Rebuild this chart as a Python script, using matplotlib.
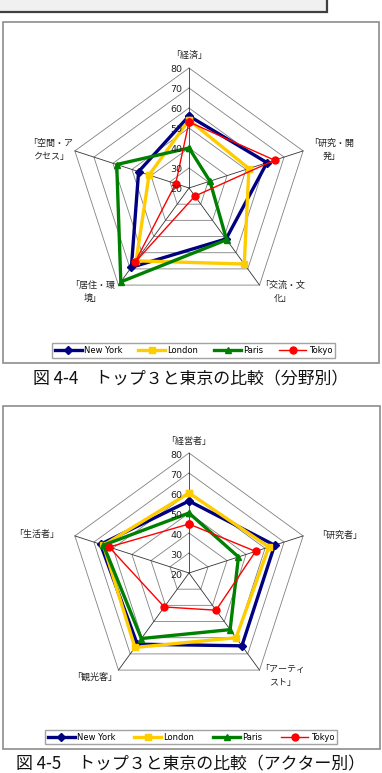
import numpy as np
import matplotlib
matplotlib.use('Agg')
import matplotlib.pyplot as plt
from matplotlib.patches import Rectangle

plt.rcParams['font.family'] = ['Noto Sans CJK JP', 'DejaVu Sans']

# ----------------------------------------------------------------------- #
# data
cities = ['New York', 'London', 'Paris', 'Tokyo']

field_labels = ['「経済」', '「研究・開\n発」', '「交流・文\n化」', '「居住・環\n境」', '「空間・ア\nクセス」']
field_ny = [56, 61, 51.5, 69, 46.5]
field_london = [54, 51.5, 67, 65, 41]
field_paris = [40, 31, 52, 78, 58]
field_tokyo = [53, 65, 25, 66, 27]

actor_labels = ['「経営者」', '「研究者」', '「アーティ\nスト」', '「観光客」', '「生活者」']
actor_ny = [56, 65, 65, 64, 66.5]
actor_london = [60, 62, 60, 66, 65]
actor_paris = [50, 46, 55, 60.5, 65]
actor_tokyo = [44.5, 55, 43, 41, 62]

r_ticks = [20, 30, 40, 50, 60, 70, 80]

colors = ['#000080', '#FFCC00', '#008000', '#FF0000']
markers = ['D', 's', '^', 'o']
widths = [2.4, 2.4, 2.4, 1.0]
msizes = [4.5, 4.5, 4.5, 5]

W, H = 382, 773
fig = plt.figure(figsize=(W / 100, H / 100), dpi=100)


def px_rect(x0, y0, x1, y1):
    # pixel box (top-left origin) -> figure fraction
    return [x0 / W, 1 - y1 / H, (x1 - x0) / W, (y1 - y0) / H]


def radar(cx, cy, labels, series, label_pos):
    rmin, rmax = r_ticks[0], r_ticks[-1]
    half = 75
    ax = fig.add_axes(px_rect(cx - 2 * half, cy - 2 * half, cx + 2 * half, cy + 2 * half))
    ax.set_xlim(-half, half)
    ax.set_ylim(-half, half)
    ax.axis('off')
    n = len(labels)
    ang = np.pi / 2 - np.arange(n) * 2 * np.pi / n
    # grid pentagons
    for t in r_ticks[1:]:
        r = t - rmin
        xs = np.append(r * np.cos(ang), r * np.cos(ang[0]))
        ys = np.append(r * np.sin(ang), r * np.sin(ang[0]))
        ax.plot(xs, ys, color='#808080', lw=0.6, zorder=1)
    # spokes
    R = rmax - rmin
    for a in ang:
        ax.plot([0, R * np.cos(a)], [0, R * np.sin(a)], color='#333333', lw=0.6, zorder=1)
    # tick labels
    for t in r_ticks:
        ax.text(-3.5, t - rmin - 1, str(t), ha='right', va='center', fontsize=6.8,
                color='#222222', family='DejaVu Sans', zorder=5)
    # series
    for vals, c, m, lw, ms, name in zip(series, colors, markers, widths, msizes, cities):
        v = np.array(vals) - rmin
        xs = np.append(v * np.cos(ang), v[0] * np.cos(ang[0]))
        ys = np.append(v * np.sin(ang), v[0] * np.sin(ang[0]))
        ax.plot(xs, ys, color=c, lw=lw, marker=m, ms=ms, mec=c, mfc=c, label=name, zorder=3)
    # category labels
    for lab, (dx, dy) in zip(labels, label_pos):
        fig.text((cx + dx) / W, 1 - (cy + dy) / H, lab, ha='center', va='center',
                 fontsize=6.5, linespacing=1.5, color='#222222')
    return ax


def frame(x0, y0, x1, y1):
    fig.patches.append(Rectangle((x0 / W, 1 - y1 / H), (x1 - x0) / W, (y1 - y0) / H,
                                 transform=fig.transFigure, fill=False,
                                 edgecolor='#8c8c8c', lw=1.2))


def legend(ax, x0, y0, x1, y1):
    h, l = ax.get_legend_handles_labels()
    fig.legend(h, l, loc='center', ncol=4, mode='expand',
               bbox_to_anchor=px_rect(x0, y0, x1, y1),
               frameon=True, fancybox=False, edgecolor='#8c8c8c',
               handlelength=3.2, handletextpad=0.3, borderaxespad=0,
               borderpad=0.35, prop={'family': 'DejaVu Sans', 'size': 6})


# top remnant box
fig.patches.append(Rectangle((-0.01, 1 - 12 / H), 331 / W, 20 / H, transform=fig.transFigure,
                             facecolor='#f0f0f0', edgecolor='#404040', lw=1.6))

# chart 1
frame(3, 22, 379, 363)
ax1 = radar(189, 188, field_labels, [field_ny, field_london, field_paris, field_tokyo],
            [(0, -133), (143, -38), (94, 104), (-96, 104), (-138, -38)])
legend(ax1, 52, 343, 335, 358)
fig.text(0.5, 1 - 379 / H, '図 4-4　トップ３と東京の比較（分野別）', ha='center', va='center',
         fontsize=12.2, color='#111111')

# chart 2
frame(3, 406, 380, 749)
ax2 = radar(189, 573, actor_labels, [actor_ny, actor_london, actor_paris, actor_tokyo],
            [(0, -131), (151, -38), (94, 103), (-94, 104), (-152, -38)])
legend(ax2, 45, 729, 337, 745)
fig.text(0.5, 1 - 764 / H, '図 4-5　トップ３と東京の比較（アクター別）', ha='center', va='center',
         fontsize=12.2, color='#111111')

fig.savefig('out.png', dpi=100)
